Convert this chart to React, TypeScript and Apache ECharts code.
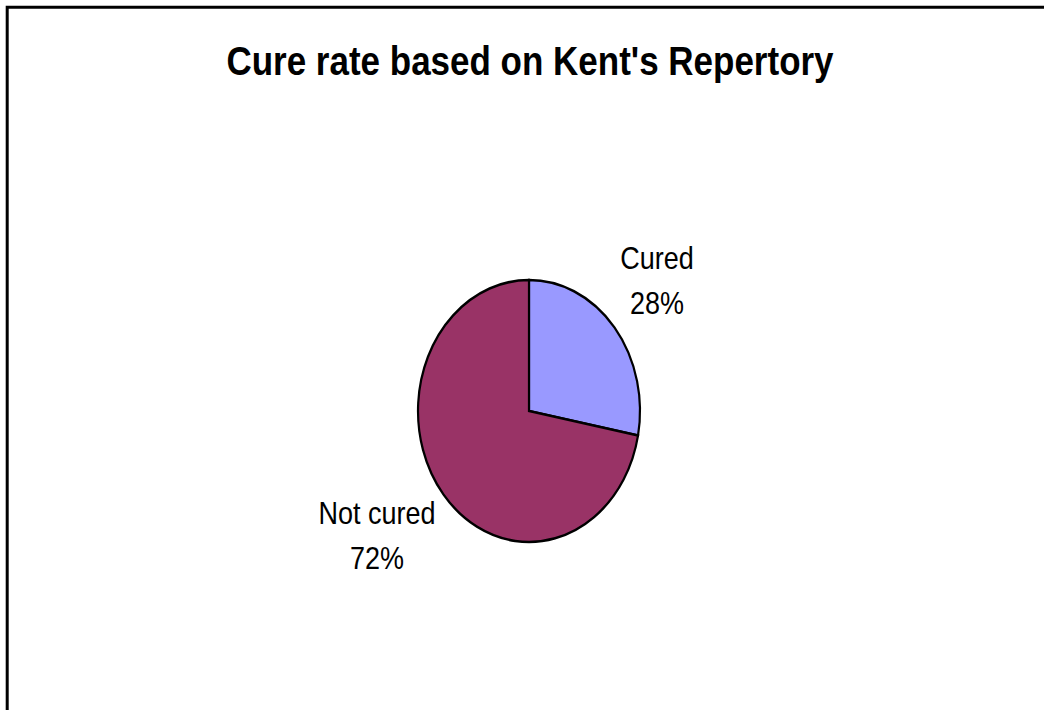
import React, { useEffect, useRef } from "react";
import * as echarts from "echarts";

const titleText = "Cure rate based on Kent's Repertory";
const categories = ["Cured", "Not cured"];
const values = [28, 72];
const colors = ["#9999FF", "#993366"];

const FONT = "'Liberation Sans', Arial, Helvetica, sans-serif";

export default function App() {
  const ref = useRef<HTMLDivElement>(null);

  useEffect(() => {
    document.body.style.margin = "0";
    const chart = echarts.init(ref.current!, null, { renderer: "svg" });
    const total = values.reduce((a, b) => a + b, 0);
    const cx = 529;
    const cy = 411;
    const rx = 111;
    const ry = 131;
    const sy = ry / rx;
    const labelPos = [
      [657, 280],
      [377, 535],
    ];

    chart.setOption({
      animation: false,
      backgroundColor: "#ffffff",
      series: [
        {
          type: "custom",
          coordinateSystem: "none",
          data: values.map((v, i) => ({ value: [v, i], name: categories[i] })),
          renderItem: (params: any, api: any) => {
            const i = params.dataIndex;
            let before = 0;
            for (let k = 0; k < i; k++) before += values[k];
            const start = -Math.PI / 2 + (before / total) * 2 * Math.PI;
            const end = start + (api.value(0) / total) * 2 * Math.PI;
            return {
              type: "sector",
              x: cx,
              y: cy,
              scaleY: sy,
              shape: { cx: 0, cy: 0, r: rx, r0: 0, startAngle: start, endAngle: end, clockwise: true },
              style: { fill: colors[i], stroke: "#000", lineWidth: 2.2, strokeNoScale: true },
            };
          },
        },
      ],
      graphic: [
        {
          type: "rect",
          silent: true,
          shape: { x: 7.2, y: 7.2, width: 1100, height: 800 },
          style: { fill: "none", stroke: "#000", lineWidth: 3 },
        },
        {
          type: "text",
          x: 530,
          y: 60,
          scaleY: 1.18,
          style: {
            text: titleText,
            fontSize: 35,
            fontWeight: "bold",
            fontFamily: FONT,
            fill: "#000",
            align: "center",
            verticalAlign: "middle",
            textAlign: "center",
            textVerticalAlign: "middle",
          },
        },
        ...categories.map((c, i) => ({
          type: "text",
          x: labelPos[i][0],
          y: labelPos[i][1],
          scaleY: sy,
          style: {
            text: `${c}\n${Math.round((values[i] / total) * 100)}%`,
            fontSize: 27,
            fontFamily: FONT,
            fill: "#000",
            lineHeight: 38,
            align: "center",
            verticalAlign: "middle",
            textAlign: "center",
            textVerticalAlign: "middle",
          },
        })),
      ],
    });
    return () => chart.dispose();
  }, []);

  return (
    <div
      ref={ref}
      style={{ position: "absolute", left: 0, top: 0, width: 1044, height: 710 }}
    />
  );
}
